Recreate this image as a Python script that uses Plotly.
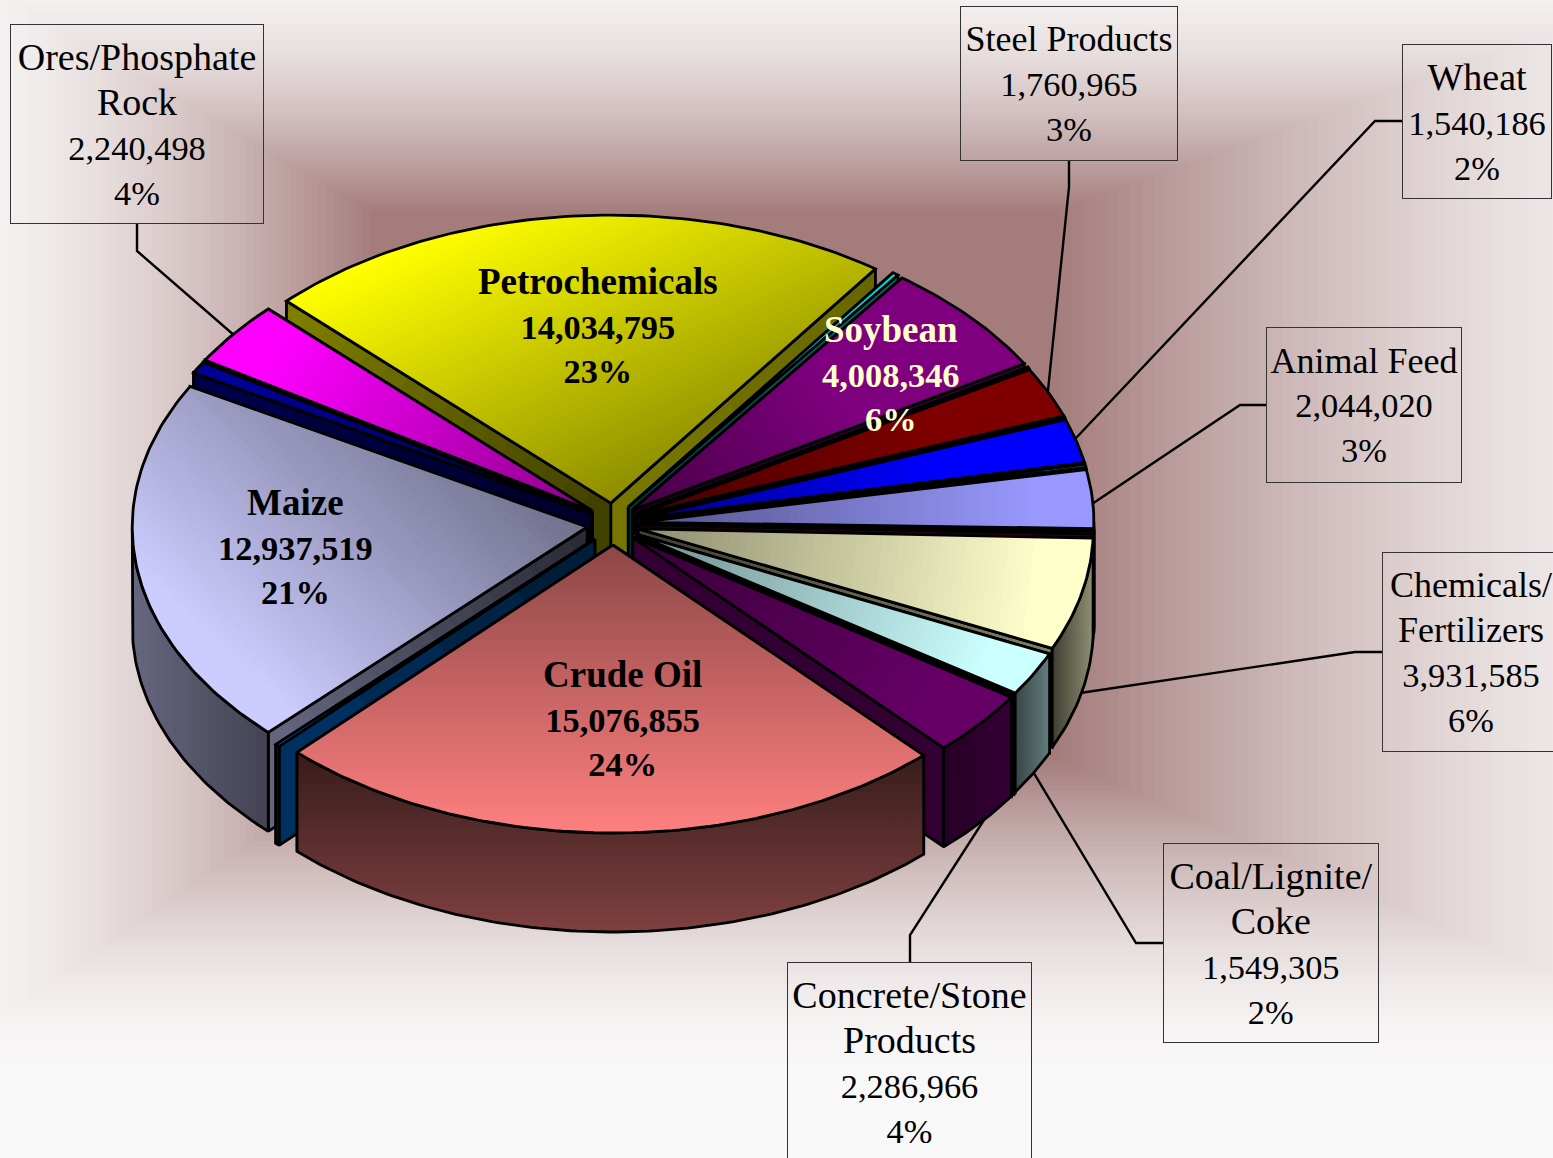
import math
import plotly.graph_objects as go

# ---- data (clockwise, starting with Crude Oil) ----
categories = ["Crude Oil", "Other A", "Maize", "Other B", "Ores/Phosphate<br>Rock", "Petrochemicals",
              "Other C", "Soybean", "Other D", "Steel Products", "Other E", "Wheat", "Other F",
              "Animal Feed", "Other G", "Chemicals/<br>Fertilizers", "Coal/Lignite/<br>Coke", "Other H",
              "Concrete/Stone<br>Products"]
values = [15076855, 100000, 12937519, 415000, 2240498, 14034795,
          135000, 4008346, 35000, 1760965, 17000, 1540186, 104000,
          2044020, 104000, 3931585, 1549305, 35000,
          2286966]

# ---- styles ----
colors = ["#ff8080", "#0066cc", "#ccccff", "#00009c", "#ff00ff", "#ffff00",
          "#00dddd", "#800080", "#660066", "#800000", "#000080", "#0000ff", "#00ccff",
          "#9999ff", "#660033", "#ffffcc", "#ccffff", "#c0c0c0",
          "#660066"]
# gradient vector (pixels from the apex to the brightest point)
grad_vec = [(0, 288), (-300, 210), (-230, 250), (-380, -150), (-300, -190), (-130, -290),
            (200, -170), (200, -130), (300, -120), (300, -100), (300, -70), (300, -50), (400, -30),
            (400, 0), (400, 20), (400, 50), (350, 130), (330, 170),
            (280, 190)]
# outer wall shading: gradient axis, start, stop, shade at start, shade at stop
outer_style = {0: ("y", 755, 930, .22, .5), 1: ("x", 275, 285, .4, .4), 2: ("x", 265, 132, .33, .5),
               15: ("x", 1050, 1092, .22, .55), 16: ("x", 1013, 1048, .25, .48),
               18: ("x", 945, 1010, .38, .5), 17: ("x", 1010, 1015, .5, .5)}
# radial wall shading: (shade at apex, shade at rim)
radial_style = {5: ((.25, .5), (.47, .4)), 18: ((.5, .5), (.5, .5)), 2: ((.2, .5), (.2, .5))}

CX, CY, RX, RY, DEPTH, EX, EY = 613, 524, 455, 288, 99, 26, 21
START = 136.9
FONT = "Liberation Serif"
W, H = 1553, 1158

boxes = [  # index, x0, y0, x1, y1, size of the name line
    (4, 10, 24, 264, 224, 38), (9, 960, 6, 1178, 161, 36), (11, 1402, 44, 1552, 199, 38),
    (13, 1266, 327, 1462, 483, 36), (15, 1382, 552, 1560, 752, 36), (16, 1163, 843, 1379, 1043, 38),
    (18, 787, 962, 1032, 1162, 38)]
inside = {0: (622, 718, "#000000"), 2: (295, 546, "#000000"), 5: (598, 325, "#000000"), 7: (891, 373, "#ffffcc")}
leaders = [[(137, 224), (137, 251), (250, 349)], [(1069, 161), (1069, 187), (1047, 400)],
           [(1402, 121), (1375, 121), (1060, 455)], [(1266, 405), (1240, 405), (1080, 512)],
           [(1382, 652), (1355, 652), (1060, 696)], [(1163, 943), (1136, 943), (1020, 750)],
           [(910, 962), (910, 935), (1000, 795)]]


def rgb(h):
    return tuple(int(h[i:i + 2], 16) for i in (1, 3, 5))


def shade(c, s):
    return tuple(v * s for v in c)


def css(c):
    return "rgb(%d,%d,%d)" % tuple(round(min(255, v)) for v in c)


def clip(poly, a, b, lim, keep_ge):
    """Clip polygon to a*x+b*y >= lim (or <=)."""
    out = []
    f = (lambda p: a * p[0] + b * p[1] - lim) if keep_ge else (lambda p: lim - a * p[0] - b * p[1])
    for i, p in enumerate(poly):
        q = poly[(i + 1) % len(poly)]
        fp, fq = f(p), f(q)
        if fp >= 0:
            out.append(p)
        if (fp >= 0) != (fq >= 0):
            u = fp / (fp - fq)
            out.append((p[0] + u * (q[0] - p[0]), p[1] + u * (q[1] - p[1])))
    return out


fig = go.Figure()


def add_poly(poly, color):
    xs = [p[0] for p in poly] + [poly[0][0]]
    ys = [p[1] for p in poly] + [poly[0][1]]
    fig.add_trace(go.Scatter(x=xs, y=ys, mode="lines", fill="toself", fillcolor=css(color),
                             line=dict(color=css(color), width=1), hoverinfo="skip", showlegend=False))


def gradient(poly, ax, ay, bx, by, c0, c1, n=16):
    """Paint a polygon with a linear gradient running from point a (c0) to point b (c1)."""
    dx, dy = bx - ax, by - ay
    L = dx * dx + dy * dy
    a, b = dx / L, dy / L
    base = a * ax + b * ay
    for k in range(n):
        part = poly
        if k > 0:
            part = clip(part, a, b, base + k / n, True)
        if k < n - 1 and part:
            part = clip(part, a, b, base + (k + 1) / n, False)
        if len(part) >= 3:
            u = (k + .5) / n
            add_poly(part, tuple(c0[i] + (c1[i] - c0[i]) * u for i in range(3)))
    xs = [p[0] for p in poly] + [poly[0][0]]
    ys = [p[1] for p in poly] + [poly[0][1]]
    fig.add_trace(go.Scatter(x=xs, y=ys, mode="lines", line=dict(color="#000000", width=2.8),
                             hoverinfo="skip", showlegend=False))


total = sum(values)
angles, run = [], START
for v in values:
    span = v / total * 360
    angles.append((run, run + span))
    run += span


def rim(ax, ay, t):
    r = math.radians(t)
    return (ax + RX * math.sin(r), ay - RY * math.cos(r))


def arc(ax, ay, t0, t1):
    n = max(2, int(abs(t1 - t0) / 1.0) + 2)
    return [rim(ax, ay, t0 + (t1 - t0) * i / (n - 1)) for i in range(n)]


order = sorted(range(len(values)), key=lambda i: -math.cos(math.radians(sum(angles[i]) / 2)))

for i in order:
    t0, t1 = angles[i]
    if t0 >= 360:
        t0, t1 = t0 - 360, t1 - 360
    mid = math.radians((t0 + t1) / 2)
    ax, ay = CX + EX * math.sin(mid), CY - EY * math.cos(mid)
    base = rgb(colors[i])
    big = (t1 - t0) > 3
    # radial walls, the one with the higher rim point first
    rs = radial_style.get(i, ((.25, .5), (.25, .5)))
    walls = sorted(zip((t0, t1), rs), key=lambda e: rim(ax, ay, e[0])[1])
    for t, (s_in, s_out) in walls:
        p = rim(ax, ay, t)
        wall = [(ax, ay), p, (p[0], p[1] + DEPTH), (ax, ay + DEPTH)]
        gradient(wall, ax, ay, p[0], p[1], shade(base, s_in), shade(base, s_out), 16 if big else 4)
    # outer wall, only the part that faces the viewer
    lo, hi = max(t0, 90), min(t1, 270)
    if hi > lo:
        top = arc(ax, ay, lo, hi)
        wall = top + [(x, y + DEPTH) for x, y in reversed(top)]
        st = outer_style.get(i)
        if st is None:
            st = ("y", 600, 900, .4, .5)
        axis, p0, p1, s0, s1 = st
        if axis == "y":
            gradient(wall, ax, p0, ax, p1, shade(base, s0), shade(base, s1), 24)
        else:
            gradient(wall, p0, ay, p1, ay, shade(base, s0), shade(base, s1), 16)
    # top face
    face = [(ax, ay)] + arc(ax, ay, t0, t1)
    vx, vy = grad_vec[i]
    gradient(face, ax, ay, ax + vx, ay + vy, shade(base, .55), base, 48 if big else 6)

# ---- background: nested rectangles form the rectangular path gradient ----
shapes = []
OUT = (-60, -40, 1750, 1060)
INN = (370, 210, 1060, 760)
C_OUT, C_INN = rgb("#f8f6f6"), rgb("#a47c7c")
N = 60
for k in range(N):
    u = k / (N - 1)
    r = [OUT[j] + (INN[j] - OUT[j]) * u for j in range(4)]
    w = u ** 1.6
    c = tuple(C_OUT[j] + (C_INN[j] - C_OUT[j]) * w for j in range(3))
    shapes.append(dict(type="rect", xref="x", yref="y", x0=r[0], y0=r[1], x1=r[2], y1=r[3],
                       fillcolor=css(c), line=dict(width=0), layer="below"))
for pts in leaders:
    path = "M " + " L ".join("%g %g" % p for p in pts)
    shapes.append(dict(type="path", xref="x", yref="y", path=path, layer="below",
                       line=dict(color="#000000", width=2.4)))


def name_part(i, px, bold=False):
    parts = categories[i].split("<br>")
    tag = ("<b>%s</b>" if bold else "%s")
    return "<br>".join('<span style="font-size:%dpx">%s</span>' % (px, tag % p) for p in parts)


def label_text(i, px, bold=False):
    pct = round(values[i] / total * 100)
    tag = ("<b>%s</b>" if bold else "%s")
    return "%s<br>%s<br>%s" % (name_part(i, px, bold), tag % format(values[i], ","), tag % ("%d%%" % pct))


ann = []
for i, x0, y0, x1, y1, px in boxes:
    ann.append(dict(x=(x0 + x1) / 2, y=(y0 + y1) / 2, xref="x", yref="y", text=label_text(i, px),
                    showarrow=False, width=x1 - x0 - 2, height=y1 - y0 - 2, borderpad=0, borderwidth=1,
                    bordercolor="#333333", align="center", valign="middle",
                    font=dict(family=FONT, size=34.4, color="#000000")))
for i, (x, y, col) in inside.items():
    ann.append(dict(x=x, y=y, xref="x", yref="y", text=label_text(i, 37, True),
                    showarrow=False, align="center",
                    font=dict(family=FONT, size=34.4, color=col)))

fig.update_layout(width=W, height=H, margin=dict(l=0, r=0, t=0, b=0), showlegend=False,
                  paper_bgcolor="#f9f8f8", plot_bgcolor="rgba(0,0,0,0)", hovermode=False,
                  xaxis=dict(range=[0, W], visible=False, fixedrange=True),
                  yaxis=dict(range=[H, 0], visible=False, fixedrange=True),
                  shapes=shapes, annotations=ann)
fig.write_html("out.html", config=dict(displayModeBar=False),
               post_script="document.body.style.margin='0';document.documentElement.style.overflow='hidden';")
